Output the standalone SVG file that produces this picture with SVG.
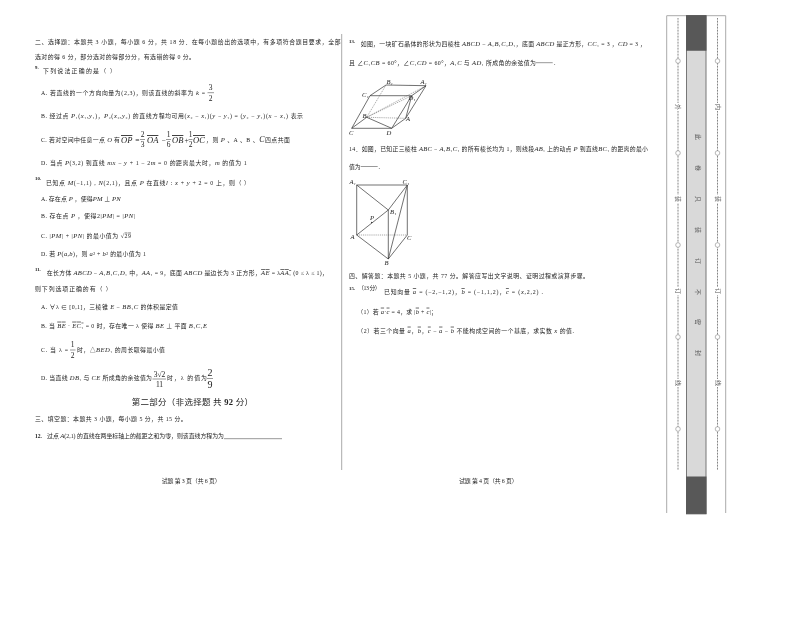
<svg xmlns="http://www.w3.org/2000/svg" width="800" height="618" viewBox="0 0 800 618">
<style>
text{font-family:"Liberation Serif","Noto Sans CJK SC",serif;font-size:5.9px;fill:#222}
.s{font-size:5.9px}
.m{font-size:8.5px;font-style:italic}
.n{font-size:7.5px;text-anchor:middle}
.b{font-size:10px;text-anchor:middle}
.no{font-size:4.8px;font-weight:bold}
.l{font-size:6.6px;font-style:italic}
.v{text-decoration:overline}
.i{font-style:italic;font-size:6.6px}
.u{stroke:#333;stroke-width:.5}
.g{stroke:#333;stroke-width:.7;fill:none}
.d{stroke:#444;stroke-width:.45;stroke-dasharray:1.2 .9;fill:none}
.dot{stroke:#666;stroke-width:1;stroke-dasharray:.8 .7;fill:none}
.c{fill:#fff;stroke:#888;stroke-width:.6}
.side{font-family:"Noto Sans CJK SC",sans-serif;font-size:6px;text-anchor:middle;fill:#555}
</style>
<defs><filter id="soft" x="-5%" y="-5%" width="110%" height="110%"><feGaussianBlur stdDeviation="0.3"/></filter></defs>
<rect width="800" height="618" fill="#fff"/>
<g id="page" filter="url(#soft)">
<line x1="341.7" y1="34" x2="341.7" y2="470" stroke="#aaa" stroke-width="1"/>

<g id="left-column">
<text class="s" x="35" y="44" textLength="305.7">二、选择题：本题共 3 小题，每小题 6 分，共 18 分．在每小题给出的选项中，有多项符合题目要求，全部</text>
<text class="s" x="35" y="58.7" textLength="160">选对的得 6 分，部分选对的得部分分，有选错的得 0 分。</text>
<text class="no" x="35" y="68.5">9.</text>
<text class="s" x="43" y="72.7" textLength="73">下列说法正确的是（    ）</text>

<text class="s" x="41" y="95" textLength="164">A. 若直线的一个方向向量为(2,3)，则该直线的斜率为 <tspan class="i">k</tspan> =</text>
<text class="n" x="210.7" y="89.5">3</text><line class="u" x1="207.5" y1="92.7" x2="214" y2="92.7"/><text class="n" x="210.7" y="100.5">2</text>

<text class="s" x="41" y="118" textLength="262">B. 经过点 <tspan class="i">P</tspan>₁(<tspan class="i">x</tspan>₁,<tspan class="i">y</tspan>₁)，<tspan class="i">P</tspan>₂(<tspan class="i">x</tspan>₂,<tspan class="i">y</tspan>₂) 的直线方程均可用(<tspan class="i">x</tspan>₂ − <tspan class="i">x</tspan>₁)(<tspan class="i">y</tspan> − <tspan class="i">y</tspan>₁) = (<tspan class="i">y</tspan>₂ − <tspan class="i">y</tspan>₁)(<tspan class="i">x</tspan> − <tspan class="i">x</tspan>₁) 表示</text>

<text class="s" x="41" y="142" textLength="79">C. 若对空间中任意一点 <tspan class="i">O</tspan> 有</text>
<text class="m v" x="121" y="143">OP</text><text class="n" x="137.3" y="142.5">=</text>
<text class="n" x="142.5" y="136.5">2</text><line class="u" x1="140" y1="139.5" x2="145" y2="139.5"/><text class="n" x="142.5" y="146.5">3</text>
<text class="m v" x="147" y="143">OA</text><text class="n" x="163.5" y="142.5">−</text>
<text class="n" x="168.5" y="136.5">1</text><line class="u" x1="166" y1="139.5" x2="171" y2="139.5"/><text class="n" x="168.5" y="146.5">6</text>
<text class="m v" x="172" y="143">OB</text><text class="n" x="186.5" y="142.5">+</text>
<text class="n" x="190.5" y="136.5">1</text><line class="u" x1="188.5" y1="139.5" x2="192.5" y2="139.5"/><text class="n" x="190.5" y="146.5">2</text>
<text class="m v" x="193" y="143">OC</text>
<text class="s" x="206" y="142" textLength="84">，则 <tspan class="i">P</tspan> 、A 、B 、<tspan class="i" style="font-size:8px">C</tspan>四点共面</text>

<text class="s" x="41" y="165.4" textLength="205.7">D. 当点 <tspan class="i">P</tspan>(3,2) 到直线 <tspan class="i">mx</tspan> − <tspan class="i">y</tspan> + 1 − 2<tspan class="i">m</tspan> = 0 的距离最大时，<tspan class="i">m</tspan> 的值为 1</text>
<text class="no" x="35" y="179.5">10.</text>
<text class="s" x="46" y="184.7" textLength="204">已知点 <tspan class="i">M</tspan>(−1,1) , <tspan class="i">N</tspan>(2,1)，且点 <tspan class="i">P</tspan> 在直线<tspan class="i">l</tspan> : <tspan class="i">x</tspan> + <tspan class="i">y</tspan> + 2 = 0 上，则（    ）</text>
<text class="s" x="41" y="201" textLength="79.7">A. 存在点 <tspan class="i">P</tspan> ，使得<tspan class="i">PM</tspan> ⊥ <tspan class="i">PN</tspan></text>
<text class="s" x="41" y="217.7" textLength="94">B. 存在点 <tspan class="i">P</tspan> ，使得2|<tspan class="i">PM</tspan>| = |<tspan class="i">PN</tspan>|</text>
<text class="s" x="41" y="237.7" textLength="90">C. |<tspan class="i">PM</tspan>| + |<tspan class="i">PN</tspan>| 的最小值为 √<tspan class="v">29</tspan></text>
<text class="s" x="41" y="256.4" textLength="105">D. 若 <tspan class="i">P</tspan>(<tspan class="i">a</tspan>,<tspan class="i">b</tspan>)，则 <tspan class="i">a</tspan>² + <tspan class="i">b</tspan>² 的最小值为 1</text>

<text class="no" x="35" y="270.5">11.</text>
<text class="s" x="46.7" y="275.3" textLength="281.3">在长方体 <tspan class="i">ABCD</tspan> − <tspan class="i">A</tspan>₁<tspan class="i">B</tspan>₁<tspan class="i">C</tspan>₁<tspan class="i">D</tspan>₁ 中，<tspan class="i">AA</tspan>₁ = 9，底面 <tspan class="i">ABCD</tspan> 是边长为 3 正方形，<tspan class="i v">AE</tspan> = λ<tspan class="i v">AA</tspan><tspan class="v">₁</tspan> (0 ≤ λ ≤ 1)，</text>
<text class="s" x="35" y="291.3" textLength="76.7">则下列选项正确的有（    ）</text>
<text class="s" x="41" y="308.7" textLength="137">A. ∀λ ∈ [0,1]，三棱锥 <tspan class="i">E</tspan> − <tspan class="i">BB</tspan>₁<tspan class="i">C</tspan> 的体积是定值</text>
<text class="s" x="41" y="327.7" textLength="166">B. 当 <tspan class="i v">BE</tspan> · <tspan class="i v">EC</tspan><tspan class="v">₁</tspan> = 0 时，存在唯一 λ 使得 <tspan class="i">BE</tspan> ⊥ 平面 <tspan class="i">B</tspan>₁<tspan class="i">C</tspan>₁<tspan class="i">E</tspan></text>
<text class="s" x="41" y="352" textLength="27">C. 当 λ =</text>
<text class="n" x="72.7" y="347">1</text><line class="u" x1="70" y1="350" x2="75.5" y2="350"/><text class="n" x="72.7" y="358">2</text>
<text class="s" x="77" y="352" textLength="88">时，△<tspan class="i">BED</tspan>₁ 的周长取得最小值</text>
<text class="s" x="41" y="380" textLength="111">D. 当直线 <tspan class="i">DB</tspan>₁ 与 <tspan class="i">CE</tspan> 所成角的余弦值为</text>
<text class="n" x="159.5" y="376.5">3√2</text><line class="u" x1="152.5" y1="379" x2="166" y2="379"/><text class="n" x="159.5" y="387">11</text>
<text class="s" x="167" y="380" textLength="40">时，λ 的值为</text>
<text class="b" x="210" y="376">2</text><line class="u" x1="207" y1="378.5" x2="213" y2="378.5"/><text class="b" x="210" y="388">9</text>

<text class="s" x="131.7" y="405.3" style="font-size:8.5px" textLength="121.3">第二部分（非选择题  共 <tspan font-weight="bold">92</tspan> 分）</text>
<text class="s" x="35" y="421.3" textLength="151.7">三、填空题：本题共 3 小题，每小题 5 分，共 15 分。</text>
<text class="no" x="35" y="438" style="font-size:5.6px">12.</text>
<text class="s" x="47" y="438" textLength="177">过点 <tspan class="i">A</tspan>(2,1) 的直线在两坐标轴上的截距之和为零，则该直线方程为为</text>
<line class="u" x1="224" y1="438.7" x2="282" y2="438.7"/>
<text class="s" x="161.7" y="483" textLength="59">试题  第 3 页（共 6 页）</text>
</g>

<g id="right-column">
<text class="no" x="349" y="42.5">13.</text>
<text class="s" x="360.7" y="46" textLength="285.3">如图，一块矿石晶体的形状为四棱柱 <tspan class="i">ABCD</tspan> − <tspan class="i">A</tspan>₁<tspan class="i">B</tspan>₁<tspan class="i">C</tspan>₁<tspan class="i">D</tspan>₁，底面 <tspan class="i">ABCD</tspan> 是正方形，<tspan class="i">CC</tspan>₁ = 3 ，<tspan class="i">CD</tspan> = 3 ，</text>
<text class="s" x="349" y="65.3" textLength="187">且 ∠<tspan class="i">C</tspan>₁<tspan class="i">CB</tspan> = 60°，∠<tspan class="i">C</tspan>₁<tspan class="i">CD</tspan> = 60°，<tspan class="i">A</tspan>₁<tspan class="i">C</tspan> 与 <tspan class="i">AD</tspan>₁ 所成角的余弦值为</text>
<line class="u" x1="536" y1="62.7" x2="552.7" y2="62.7"/><text class="s" x="554" y="65.3">.</text>

<g id="figure-13">
<path class="g" d="M351.7 128.3L391.7 128.3L405.7 118.3L426 85.7L386 85L370 95.7L351.7 128.3M370 95.7L411.7 95.7L426 85.7M391.7 128.3L411.7 95.7M351.7 128.3L366.7 117.3L391.7 128.3M405.7 118.3L411.7 95.7"/>
<path class="d" d="M366.7 117.3L405.7 118.3M366.7 117.3L386 85M366.7 117.3L411.7 95.7M366.7 117.3L426 85.7"/>
<text class="l" x="386.5" y="84">B₁</text><text class="l" x="420.5" y="84">A₁</text>
<text class="l" x="362" y="96.5">C₁</text><text class="l" x="408.5" y="100">D₁</text>
<text class="l" x="362.5" y="118">B</text><text class="l" x="406" y="121">A</text>
<text class="l" x="349" y="135">C</text><text class="l" x="386.5" y="135">D</text>
</g>

<text class="s" x="349" y="151.3" textLength="299">14．如图，已知正三棱柱 <tspan class="i">ABC</tspan> − <tspan class="i">A</tspan>₁<tspan class="i">B</tspan>₁<tspan class="i">C</tspan>₁ 的所有棱长均为 1，则线段<tspan class="i">AB</tspan>₁ 上的动点 <tspan class="i">P</tspan> 到直线<tspan class="i">BC</tspan>₁ 的距离的最小</text>
<text class="s" x="349" y="168.7" textLength="11.7">值为</text>
<line class="u" x1="360.7" y1="166.5" x2="377.7" y2="166.5"/><text class="s" x="378.5" y="168.7">.</text>

<g id="figure-14">
<path class="g" d="M356.7 185H407.3V235L388.3 259L356.7 235V185L388.3 210L407.3 185M356.7 235L388.3 210V259L407.3 185"/>
<path class="d" d="M356.7 235H407.3"/>
<circle cx="371.7" cy="222.5" r=".7" fill="#333"/>
<text class="l" x="349.5" y="183.5">A₁</text><text class="l" x="402.5" y="184">C₁</text>
<text class="l" x="390" y="213.5">B₁</text><text class="l" x="370" y="219.5">P</text>
<text class="l" x="350.5" y="238.5">A</text><text class="l" x="407" y="239.5">C</text>
<text class="l" x="384.5" y="264.5">B</text>
</g>

<text class="s" x="349" y="278" textLength="240">四、解答题：本题共 5 小题，共 77 分。解答应写出文字说明、证明过程或演算步骤。</text>
<text class="no" x="349" y="290">15.</text><text class="s" x="358" y="290" textLength="22.7">（13 分）</text>
<text class="s" x="384" y="294.3" textLength="159">已知向量 <tspan class="i v">a</tspan> = (−2,−1,2)，<tspan class="i v">b</tspan> = (−1,1,2)，<tspan class="i v">c</tspan> = (<tspan class="i">x</tspan>,2,2) .</text>
<text class="s" x="357.3" y="313.7" textLength="79.7">（1）若 <tspan class="i v">a</tspan>·<tspan class="i v">c</tspan> = 4，求 |<tspan class="i v">b</tspan> + <tspan class="i v">c</tspan>|；</text>
<text class="s" x="357.3" y="332.7" textLength="216.7">（2）若三个向量 <tspan class="i v">a</tspan>，<tspan class="i v">b</tspan>，<tspan class="i v">c</tspan> − <tspan class="i v">a</tspan> − <tspan class="i v">b</tspan> 不能构成空间的一个基底，求实数 <tspan class="i">x</tspan> 的值.</text>
<text class="s" x="459" y="483" textLength="58.7">试题  第 4 页（共 6 页）</text>
</g>
</g>

<g id="binding-strip" filter="url(#soft)">
<path d="M666.7 513V15.7H725.7V513" fill="none" stroke="#aaa" stroke-width="1"/>
<rect x="686.5" y="15.7" width="19.5" height="498" fill="#d9d9d9" stroke="#777" stroke-width="1"/>
<rect x="686.5" y="15.7" width="19.5" height="34.5" fill="#595959" stroke="#595959" stroke-width="1"/>
<rect x="686.5" y="477" width="19.5" height="36.7" fill="#595959" stroke="#595959" stroke-width="1"/>
<line class="dot" x1="678" y1="18" x2="678" y2="470"/>
<line class="dot" x1="717.5" y1="18" x2="717.5" y2="470"/>
<g id="binding-marks">
<circle class="c" cx="678" cy="61" r="2.3"/><circle class="c" cx="678" cy="153" r="2.3"/><circle class="c" cx="678" cy="245" r="2.3"/><circle class="c" cx="678" cy="337" r="2.3"/><circle class="c" cx="678" cy="429" r="2.3"/>
<circle class="c" cx="717.5" cy="61" r="2.3"/><circle class="c" cx="717.5" cy="153" r="2.3"/><circle class="c" cx="717.5" cy="245" r="2.3"/><circle class="c" cx="717.5" cy="337" r="2.3"/><circle class="c" cx="717.5" cy="429" r="2.3"/>
</g>
<g id="binding-labels">
<rect x="675" y="103" width="6" height="8" fill="#fff"/><rect x="675" y="195" width="6" height="8" fill="#fff"/><rect x="675" y="287" width="6" height="8" fill="#fff"/><rect x="675" y="379" width="6" height="8" fill="#fff"/>
<rect x="714.5" y="103" width="6" height="8" fill="#fff"/><rect x="714.5" y="195" width="6" height="8" fill="#fff"/><rect x="714.5" y="287" width="6" height="8" fill="#fff"/><rect x="714.5" y="379" width="6" height="8" fill="#fff"/>
<text class="side" transform="translate(678 107) rotate(90)" y="2">外</text><text class="side" transform="translate(678 199) rotate(90)" y="2">装</text><text class="side" transform="translate(678 291) rotate(90)" y="2">订</text><text class="side" transform="translate(678 383) rotate(90)" y="2">线</text>
<text class="side" transform="translate(717.5 107) rotate(90)" y="2">内</text><text class="side" transform="translate(717.5 199) rotate(90)" y="2">装</text><text class="side" transform="translate(717.5 291) rotate(90)" y="2">订</text><text class="side" transform="translate(717.5 383) rotate(90)" y="2">线</text>
<text class="side" transform="translate(698 137) rotate(90)" y="2">此</text><text class="side" transform="translate(698 168) rotate(90)" y="2">卷</text><text class="side" transform="translate(698 199) rotate(90)" y="2">只</text><text class="side" transform="translate(698 230) rotate(90)" y="2">装</text><text class="side" transform="translate(698 261) rotate(90)" y="2">订</text><text class="side" transform="translate(698 292) rotate(90)" y="2">不</text><text class="side" transform="translate(698 322) rotate(90)" y="2">密</text><text class="side" transform="translate(698 353) rotate(90)" y="2">封</text>
</g>
</g>
</svg>
